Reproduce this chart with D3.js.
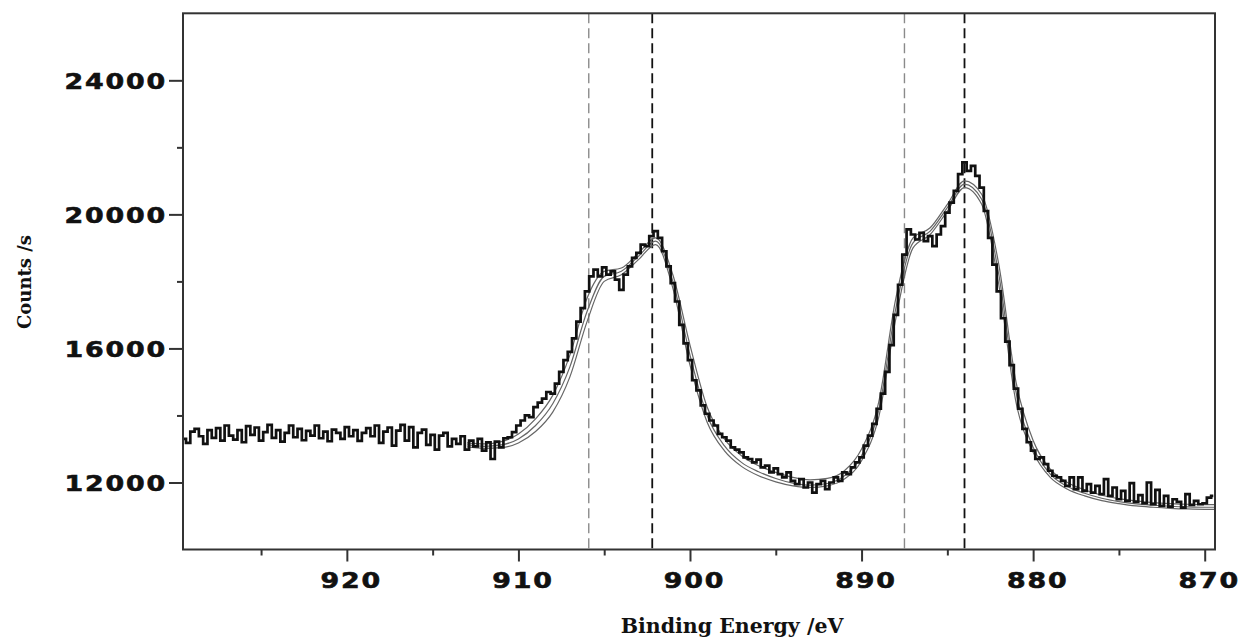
<!DOCTYPE html>
<html>
<head>
<meta charset="utf-8">
<script src="https://cdn.jsdelivr.net/npm/d3@7"></script>
<style>
  html, body { margin: 0; padding: 0; background: #fff; }
  svg { display: block; }
</style>
</head>
<body>
<svg id="chart" width="1244" height="641"></svg>
<script>
// Measured spectrum: counts on a 0.25 eV grid, from 929.5 eV down to 869.5 eV
const E_START = 929.5;
const E_STEP = 0.25;
const counts = [
  13300, 13180, 13520, 13600,  // 929.5
  13380, 13150, 13560, 13330,  // 928.5
  13620, 13250, 13700, 13400,  // 927.5
  13280, 13560, 13200, 13680,  // 926.5
  13420, 13640, 13250, 13500,  // 925.5
  13720, 13330, 13560, 13220,  // 924.5
  13480, 13700, 13350, 13600,  // 923.5
  13260, 13540, 13400, 13700,  // 922.5
  13320, 13520, 13230, 13580,  // 921.5
  13480, 13300, 13650, 13380,  // 920.5
  13560, 13240, 13480, 13620,  // 919.5
  13380, 13700, 13180, 13520,  // 918.5
  13640, 13100, 13550, 13720,  // 917.5
  13250, 13650, 13050, 13480,  // 916.5
  13580, 13120, 13420, 12980,  // 915.5
  13400, 13480, 13080, 13300,  // 914.5
  13150, 13380, 12980, 13250,  // 913.5
  13080, 13300, 12950, 13200,  // 912.5
  12700, 13220, 13050, 13320,  // 911.5
  13350, 13500, 13700, 13850,  // 910.5
  14000, 13950, 14250, 14380,  // 909.5
  14500, 14700, 14650, 14950,  // 908.5
  15300, 15650, 15900, 16300,  // 907.5
  16800, 17200, 17700, 18150,  // 906.5
  18350, 18150, 18420, 18200,  // 905.5
  18300, 18050, 17750, 18200,  // 904.5
  18450, 18700, 18850, 19100,  // 903.5
  19050, 19350, 19500, 19300,  // 902.5
  18900, 18450, 17950, 17400,  // 901.5
  16700, 16150, 15650, 15050,  // 900.5
  14750, 14300, 14050, 13850,  // 899.5
  13700, 13450, 13350, 13250,  // 898.5
  13050, 12980, 12900, 12750,  // 897.5
  12700, 12600, 12680, 12450,  // 896.5
  12500, 12300, 12420, 12250,  // 895.5
  12150, 12300, 12050, 11950,  // 894.5
  12100, 11850, 12000, 11700,  // 893.5
  11950, 12050, 11800, 12000,  // 892.5
  12150, 12050, 12300, 12250,  // 891.5
  12450, 12600, 12750, 13100,  // 890.5
  13400, 13750, 14200, 14650,  // 889.5
  15300, 16100, 17000, 17900,  // 888.5
  18800, 19550, 19400, 19250,  // 887.5
  19450, 19200, 19350, 19050,  // 886.5
  19400, 19650, 20050, 20350,  // 885.5
  20700, 21200, 21550, 21300,  // 884.5
  21450, 21150, 20800, 20100,  // 883.5
  19300, 18500, 17700, 16900,  // 882.5
  16200, 15500, 14800, 14200,  // 881.5
  13600, 13200, 12950, 12700,  // 880.5
  12750, 12550, 12350, 12200,  // 879.5
  12150, 12050, 11900, 12150,  // 878.5
  11800, 12150, 11750, 11950,  // 877.5
  11700, 11900, 11650, 12100,  // 876.5
  11600, 11850, 11500, 11750,  // 875.5
  11450, 11980, 11420, 11620,  // 874.5
  11380, 12000, 11350, 11780,  // 873.5
  11300, 11600, 11280, 11500,  // 872.5
  11420, 11250, 11650, 11330,  // 871.5
  11450, 11350, 11380, 11550,  // 870.5
  11600                        // 869.5
];

// Fitted envelopes on a 1 eV grid, from 913 eV down to 869 eV
const FIT_START = 913;
const FIT_STEP = 1;
const fitA = [13180, 13150, 13220, 13450, 13900, 14600, 15800, 17500, 18300, 18400,
              18850, 19300, 18200, 16100, 14250, 13300, 12800, 12500, 12300, 12150,
              12080, 12120, 12350, 13000, 14400, 17500, 19300, 19600, 20300, 21000,
              20600, 18500, 15000, 13250, 12400, 12000, 11780, 11620, 11520, 11450,
              11400, 11370, 11350, 11340, 11340];
const fitB = [13120, 13080, 13120, 13300, 13700, 14350, 15450, 17100, 18150, 18300,
              18750, 19200, 18000, 15800, 14000, 13100, 12600, 12320, 12120, 11980,
              11920, 11970, 12200, 12800, 14150, 17200, 19150, 19500, 20200, 20900,
              20450, 18200, 14700, 13050, 12250, 11880, 11680, 11530, 11430, 11360,
              11320, 11290, 11270, 11260, 11260];
const fitC = [13060, 13020, 13040, 13180, 13520, 14100, 15150, 16800, 18000, 18200,
              18650, 19100, 17800, 15500, 13800, 12950, 12480, 12200, 12020, 11900,
              11850, 11900, 12100, 12650, 13950, 16900, 19000, 19400, 20100, 20800,
              20300, 17900, 14400, 12900, 12150, 11800, 11600, 11460, 11370, 11300,
              11260, 11230, 11210, 11200, 11200];

// Component positions (eV)
const shoulderPeaks = [905.9, 887.5];
const mainPeaks = [902.2, 884.0];

// Axis ticks
const xTicks = [920, 910, 900, 890, 880, 870];
const xMinorTicks = [925, 915, 905, 895, 885, 875];
const yTicks = [12000, 16000, 20000, 24000];
const yMinorTicks = [14000, 18000, 22000];

const svg = d3.select("#chart");
const plot = { left: 183, right: 1215, top: 13.3, bottom: 549.5 };

const x = d3.scaleLinear().domain([929.55, 869.4]).range([plot.left, plot.right]);
const y = d3.scaleLinear().domain([10000, 26000]).range([plot.bottom, plot.top]);

svg.append("rect").attr("width", 1244).attr("height", 641).attr("fill", "#fff");

svg.append("defs").append("clipPath").attr("id", "plotClip")
  .append("rect")
  .attr("x", plot.left).attr("y", plot.top)
  .attr("width", plot.right - plot.left).attr("height", plot.bottom - plot.top);

const area = svg.append("g").attr("clip-path", "url(#plotClip)");

// Dashed component markers
area.selectAll("line.shoulder").data(shoulderPeaks).join("line")
  .attr("class", "shoulder")
  .attr("x1", d => x(d)).attr("x2", d => x(d))
  .attr("y1", plot.top).attr("y2", plot.bottom)
  .attr("stroke", "#8a8a8a").attr("stroke-width", 1.4)
  .attr("stroke-dasharray", "10,5");

area.selectAll("line.main").data(mainPeaks).join("line")
  .attr("class", "main")
  .attr("x1", d => x(d)).attr("x2", d => x(d))
  .attr("y1", plot.top).attr("y2", plot.bottom)
  .attr("stroke", "#111").attr("stroke-width", 1.8)
  .attr("stroke-dasharray", "10,5");

// Fitted envelopes
const fitLine = d3.line()
  .x((d, i) => x(FIT_START - i * FIT_STEP))
  .y(d => y(d))
  .curve(d3.curveMonotoneX);

area.selectAll("path.fit").data([fitA, fitB, fitC]).join("path")
  .attr("class", "fit")
  .attr("d", fitLine)
  .attr("fill", "none")
  .attr("stroke", "#666")
  .attr("stroke-width", 1.2);

// Measured spectrum
const dataLine = d3.line()
  .x((d, i) => x(E_START - i * E_STEP))
  .y(d => y(d))
  .curve(d3.curveStep);

area.append("path")
  .datum(counts)
  .attr("d", dataLine)
  .attr("fill", "none")
  .attr("stroke", "#111")
  .attr("stroke-width", 2.7)
  .attr("stroke-linejoin", "miter");

// Axes
const tickFont = "'DejaVu Sans', sans-serif";

const xAxis = svg.append("g")
  .attr("transform", `translate(0,${plot.bottom})`)
  .call(d3.axisBottom(x).tickValues(xTicks).tickSize(12).tickSizeOuter(0).tickFormat(d3.format("d")));
const xMinor = svg.append("g")
  .attr("transform", `translate(0,${plot.bottom})`)
  .call(d3.axisBottom(x).tickValues(xMinorTicks).tickSize(6).tickSizeOuter(0).tickFormat(""));

const yAxis = svg.append("g")
  .attr("transform", `translate(${plot.left},0)`)
  .call(d3.axisLeft(y).tickValues(yTicks).tickSize(14).tickSizeOuter(0).tickFormat(d3.format("d")));
const yMinor = svg.append("g")
  .attr("transform", `translate(${plot.left},0)`)
  .call(d3.axisLeft(y).tickValues(yMinorTicks).tickSize(6).tickSizeOuter(0).tickFormat(""));

[xAxis, xMinor, yAxis, yMinor].forEach(g => {
  g.select(".domain").remove();
  g.selectAll(".tick line").attr("stroke", "#333").attr("stroke-width", 2);
});

xAxis.selectAll(".tick text")
  .attr("font-family", tickFont)
  .attr("font-weight", "bold")
  .attr("font-size", 22)
  .attr("fill", "#111")
  .attr("stroke", "#111").attr("stroke-width", 0.6)
  .attr("letter-spacing", 1.5)
  .attr("y", 0).attr("dy", 0)
  .attr("transform", "translate(4,38) scale(1.22,1)");

yAxis.selectAll(".tick text")
  .attr("font-family", tickFont)
  .attr("font-weight", "bold")
  .attr("font-size", 22)
  .attr("fill", "#111")
  .attr("stroke", "#111").attr("stroke-width", 0.6)
  .attr("letter-spacing", 1.5)
  .attr("x", 0).attr("dy", "0.36em")
  .attr("transform", "translate(-16,0) scale(1.22,1)");

// Plot frame
svg.append("rect")
  .attr("x", plot.left).attr("y", plot.top)
  .attr("width", plot.right - plot.left).attr("height", plot.bottom - plot.top)
  .attr("fill", "none").attr("stroke", "#333").attr("stroke-width", 2);

// Axis titles
svg.append("text")
  .attr("x", 732).attr("y", 633)
  .attr("text-anchor", "middle")
  .attr("font-family", "'DejaVu Serif', serif")
  .attr("font-weight", "bold")
  .attr("font-size", 20.5)
  .attr("fill", "#111")
  .text("Binding Energy /eV");

svg.append("text")
  .attr("transform", "translate(31,282) rotate(-90)")
  .attr("text-anchor", "middle")
  .attr("font-family", "'DejaVu Serif', serif")
  .attr("font-weight", "bold")
  .attr("font-size", 18)
  .attr("fill", "#111")
  .text("Counts /s");
</script>
</body>
</html>
